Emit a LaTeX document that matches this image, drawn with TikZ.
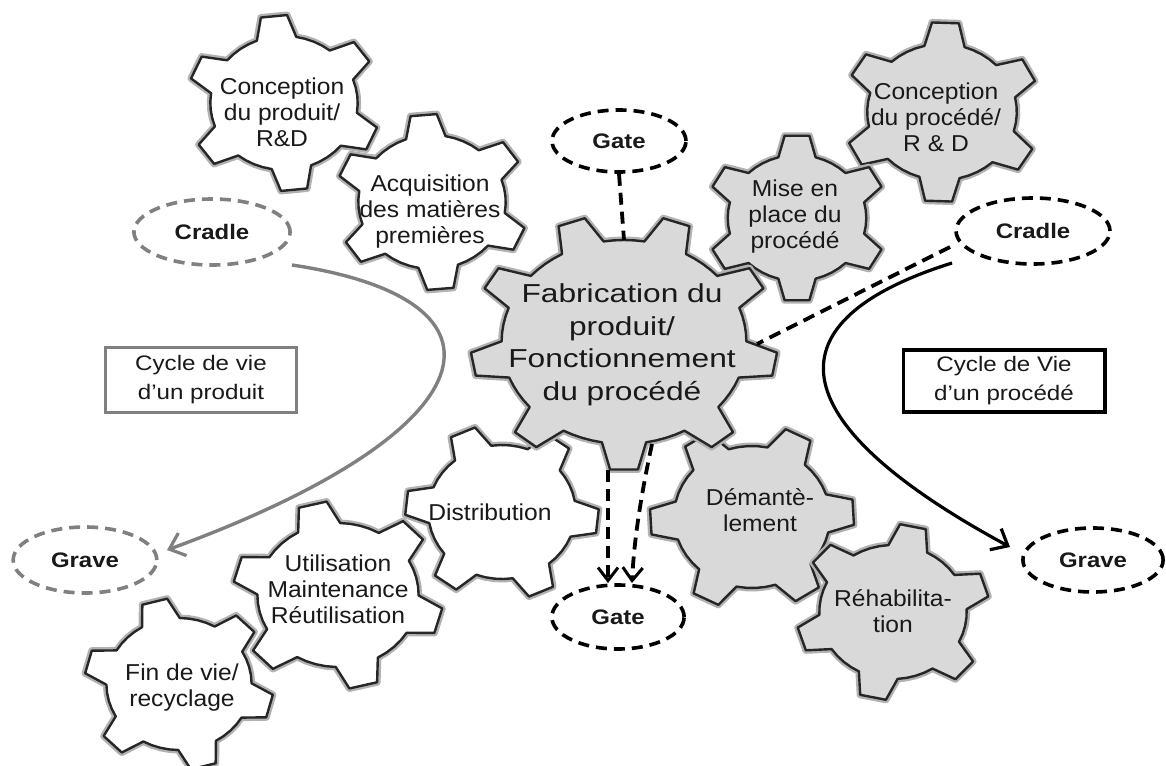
\documentclass[tikz,border=0pt]{standalone}
\usepackage{fontspec}
\setmainfont{Liberation Sans}
\usetikzlibrary{shapes.geometric,arrows.meta}

% gear outline: #1 cx, #2 cy, #3 inner radius, #4 outer radius, #5 rotation, #6 teeth, #7 xscale, #8 style
\newcommand{\geardraw}[8]{%
  \begin{scope}[shift={(#1,#2)},yscale=-1,xscale=#7]
    \pgfmathsetmacro{\gp}{360/#6}%
    \pgfmathsetmacro{\bh}{0.26*\gp}%
    \pgfmathsetmacro{\th}{0.13*\gp}%
    \pgfmathsetmacro{\gg}{\gp-2*\bh}%
    \pgfmathtruncatemacro{\nm}{#6-1}%
    \draw[#8] ({#3*cos(#5-\gp+\bh)},{#3*sin(#5-\gp+\bh)})
      \foreach \k [evaluate=\k as \ang using {#5+\k*\gp}] in {0,...,\nm} {
        -- ({#3*cos(\ang-\bh-0.75*\gg)},{#3*sin(\ang-\bh-0.75*\gg)})
        -- ({#3*cos(\ang-\bh-0.5*\gg)},{#3*sin(\ang-\bh-0.5*\gg)})
        -- ({#3*cos(\ang-\bh-0.25*\gg)},{#3*sin(\ang-\bh-0.25*\gg)})
        -- ({#3*cos(\ang-\bh)},{#3*sin(\ang-\bh)})
        -- ({#4*cos(\ang-\th)},{#4*sin(\ang-\th)})
        -- ({#4*cos(\ang+\th)},{#4*sin(\ang+\th)})
        -- ({#3*cos(\ang+\bh)},{#3*sin(\ang+\bh)})
      } -- cycle;
  \end{scope}%
}

\tikzset{
  gearw/.style={fill=white, draw=black!85, line width=2.4pt, line join=round,
    preaction={draw=black!30, line width=7pt, line join=round}},
  gearg/.style={fill=black!15, draw=black!85, line width=2.4pt, line join=round,
    preaction={draw=black!30, line width=7pt, line join=round}},
  gtext/.style={align=center, inner sep=0pt, text=black!90,
    font=\fontsize{23}{26}\selectfont, xscale=1.07},
  maintext/.style={align=center, inner sep=0pt, text=black!90,
    font=\fontsize{26}{32.5}\selectfont, xscale=1.22},
  endlab/.style={ellipse, draw=black, line width=3.6pt, dash pattern=on 11pt off 7pt,
    inner sep=0pt, font=\bfseries\fontsize{21}{24}\selectfont, xscale=1.14, text=black!90},
  endlabgray/.style={endlab, draw=black!50},
  cyclebox/.style={draw, line width=3.2pt, inner sep=0pt, align=center,
    font=\fontsize{21}{29}\selectfont, xscale=1.15, text=black!90},
  dashcon/.style={draw=black, line width=3.8pt, dash pattern=on 12pt off 7pt},
  tipsmall/.style={-{Straight Barb[length=13pt,width=20pt,line width=3pt]}},
  tipbig/.style={-{Straight Barb[length=14pt,width=24pt,line width=3.2pt]}},
}

\begin{document}
\begin{tikzpicture}[x=1pt,y=-1pt]
\useasboundingbox[fill=white] (0,0) rectangle (1166,765);

% ---------- gears ----------
\geardraw{284}{103}{67}{88}{96}{6}{1.1}{gearw}
\geardraw{432}{202}{67}{88}{95}{6}{1.1}{gearw}
\geardraw{942}{112}{68}{90}{88}{6}{1.1}{gearg}
\geardraw{797}{218}{63}{83}{90}{6}{1.1}{gearg}
\geardraw{502}{512}{67}{88}{-6}{6}{1.1}{gearw}
\geardraw{752}{517}{71}{93}{3}{6}{1.1}{gearg}
\geardraw{893}{612}{67}{88}{78}{6}{1.1}{gearg}
\geardraw{338}{595}{72}{94}{104}{6}{1.12}{gearw}
\geardraw{179}{684}{66}{86}{105}{6}{1.1}{gearw}
\geardraw{624}{342}{102}{128}{270}{9}{1.2}{gearg}

% ---------- gear texts ----------
\node[gtext] (crd) at (282,112) {Conception\\du produit/\\R\&D};
\node[gtext] (acq) at (430,212) {Acquisition\\des matières\\premières};
\node[maintext] (fab) at (622,345) {Fabrication du\\produit/\\Fonctionnement\\du procédé};
\node[gtext] (mise) at (795,217) {Mise en\\place du\\procédé};
\node[gtext] (cpr) at (936,117) {Conception\\du procédé/\\R \& D};
\node[gtext] (dist) at (490,512) {Distribution};
\node[gtext] (dem) at (760,510) {Démantè-\\lement};
\node[gtext] (reh) at (893,611) {Réhabilita-\\tion};
\node[gtext] (util) at (338,589) {Utilisation\\Maintenance\\Réutilisation};
\node[gtext] (fin) at (182,688) {Fin de vie/\\recyclage};

% ---------- cradle / gate / grave ----------
\node[endlab, minimum width=117.5pt, minimum height=62pt] (gatetop) at (619,141) {Gate};
\node[endlabgray, minimum width=137pt, minimum height=66pt] (cradleL) at (212,232) {Cradle};
\node[endlab, minimum width=135pt, minimum height=66pt] (cradleR) at (1033,231) {Cradle};
\node[endlabgray, minimum width=126pt, minimum height=66pt] (graveL) at (85,560) {Grave};
\node[endlab, minimum width=116pt, minimum height=64pt] (gatebot) at (618,617) {Gate};
\node[endlab, minimum width=123pt, minimum height=64pt] (graveR) at (1093,560) {Grave};

% ---------- cycle boxes ----------
\node[cyclebox, draw=black!50, minimum width=166pt, minimum height=65pt] (boxP) at (201,380) {Cycle de vie\\d’un produit};
\node[cyclebox, draw=black, minimum width=175.5pt, minimum height=62pt] (boxQ) at (1004,381) {Cycle de Vie\\d’un procédé};

% ---------- connector end points ----------
\coordinate (fabTop) at (624,240);
\coordinate (fabRight) at (757,344);
\coordinate (fabBotA) at (608,470);
\coordinate (fabBotB) at (652,444);
\coordinate (cradleRa) at (950,247);
\coordinate (cradleRb) at (952,263);
\coordinate (cradleLa) at (292,265);
\coordinate (graveLin) at (167,550);
\coordinate (graveRin) at (1010,547);
\coordinate (gateA) at (608,583);
\coordinate (gateB) at (632,583);

% ---------- connectors ----------
\draw[dashcon] (gatetop.south) -- (fabTop);
\draw[dashcon] (cradleRa) -- (fabRight);
\draw[black, line width=3.2pt, tipbig] (cradleRb) .. controls (770,320) and (775,420) .. (graveRin);
\draw[black!50, line width=3.4pt, tipbig] (cradleLa) .. controls (525,300) and (495,430) .. (graveLin);
\draw[dashcon, tipsmall] (fabBotA) -- (gateA);
\draw[dashcon, tipsmall] (fabBotB) .. controls (641,495) and (634,540) .. (gateB);
\end{tikzpicture}
\end{document}
